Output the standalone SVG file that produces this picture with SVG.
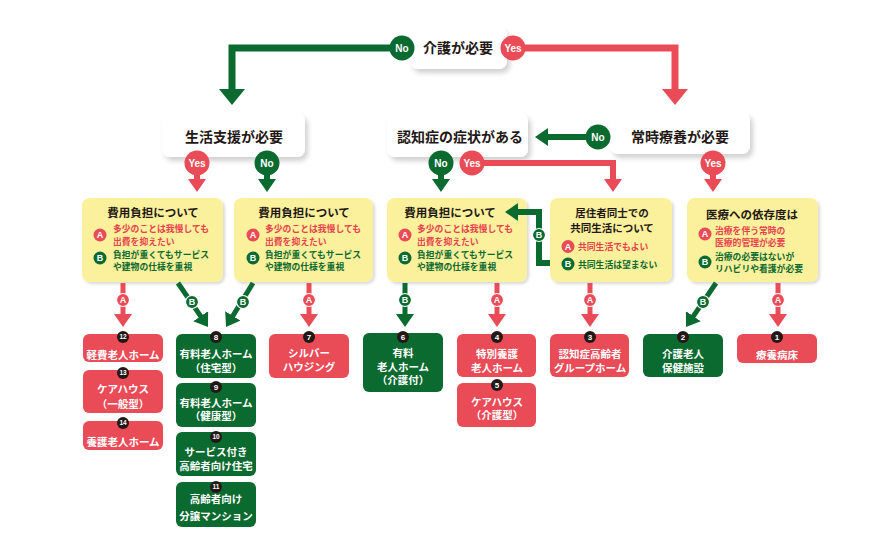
<svg xmlns="http://www.w3.org/2000/svg" width="880" height="550" viewBox="0 0 880 550">
<defs>
<filter id="sh" x="-20%" y="-20%" width="150%" height="160%"><feDropShadow dx="3" dy="4" stdDeviation="2.5" flood-color="#000" flood-opacity="0.18"/></filter>
<filter id="shy" x="-10%" y="-10%" width="130%" height="130%"><feDropShadow dx="2" dy="2" stdDeviation="1.5" flood-color="#000" flood-opacity="0.15"/></filter>
<marker id="agL" viewBox="0 0 16 26" refX="3" refY="13" markerWidth="16" markerHeight="26" markerUnits="userSpaceOnUse" orient="auto"><path d="M0,0 L16,13 L0,26 z" fill="#0b6a30"/></marker>
<marker id="arL" viewBox="0 0 16 26" refX="3" refY="13" markerWidth="16" markerHeight="26" markerUnits="userSpaceOnUse" orient="auto"><path d="M0,0 L16,13 L0,26 z" fill="#e94b57"/></marker>
<marker id="ag" viewBox="0 0 13 18" refX="2" refY="9" markerWidth="13" markerHeight="18" markerUnits="userSpaceOnUse" orient="auto"><path d="M0,0 L13,9 L0,18 z" fill="#0b6a30"/></marker>
<marker id="ar" viewBox="0 0 13 18" refX="2" refY="9" markerWidth="13" markerHeight="18" markerUnits="userSpaceOnUse" orient="auto"><path d="M0,0 L13,9 L0,18 z" fill="#e94b57"/></marker>
</defs>
<style>
text{font-family:"Noto Sans CJK JP","Noto Sans",sans-serif;font-weight:bold}
.q{fill:#fff;filter:url(#sh)}
.qt{font-size:14px;fill:#231815;text-anchor:middle}
.y{fill:#fbf09b;filter:url(#shy)}
.yt{font-size:11.5px;fill:#231815;text-anchor:middle}
.yt2{font-size:10.5px;fill:#231815;text-anchor:middle}
.at{font-size:8.8px;fill:#e8424f}
.bt{font-size:8.8px;fill:#0b6a30}
.ca{fill:#e94b57}
.cb{fill:#0b6a30}
.cl{font-size:9px;fill:#fff;text-anchor:middle;font-family:"Liberation Sans",sans-serif}
.rb{fill:#e94b57}
.gb{fill:#0b6a30}
.bx{font-size:10.5px;fill:#fff;text-anchor:middle}
.nc{fill:#231815}
.nt{font-size:8px;fill:#fff;text-anchor:middle;font-family:"Liberation Sans",sans-serif}
.ns{font-size:6.5px;fill:#fff;text-anchor:middle;font-family:"Liberation Sans",sans-serif}
.lg{fill:none;stroke:#0b6a30}
.lr{fill:none;stroke:#e94b57}
.yn{font-size:10px;fill:#fff;text-anchor:middle;font-family:"Liberation Sans",sans-serif;font-weight:bold}
.lc{stroke:#fff;stroke-width:1.2}
</style>

<g id="q-kaigo"><rect class="q" x="410" y="28" width="97" height="41" rx="8"/><text class="qt" x="458" y="53">介護が必要</text></g>
<g id="q-seikatsu"><rect class="q" x="162" y="113" width="143" height="44" rx="8"/><text class="qt" x="234" y="142">生活支援が必要</text></g>
<g id="q-ninchi"><rect class="q" x="387" y="113" width="141" height="44" rx="8"/><text class="qt" x="460" y="142">認知症の症状がある</text></g>
<g id="q-ryoyo"><rect class="q" x="610" y="112" width="140" height="42" rx="8"/><text class="qt" x="680" y="142">常時療養が必要</text></g>

<g id="y1"><rect class="y" x="82" y="198" width="141" height="84" rx="8"/>
<text class="yt" x="153" y="217">費用負担について</text>
<circle class="ca" cx="100" cy="235" r="6.5"/><text class="cl" x="100" y="238.3">A</text>
<text class="at" x="113" y="232">多少のことは我慢しても</text><text class="at" x="113" y="244.5">出費を抑えたい</text>
<circle class="cb" cx="100" cy="258" r="6.5"/><text class="cl" x="100" y="261.3">B</text>
<text class="bt" x="113" y="257.5">負担が重くてもサービス</text><text class="bt" x="113" y="270">や建物の仕様を重視</text></g>

<g id="y2"><rect class="y" x="234" y="198" width="139" height="84" rx="8"/>
<text class="yt" x="304" y="217">費用負担について</text>
<circle class="ca" cx="253" cy="235" r="6.5"/><text class="cl" x="253" y="238.3">A</text>
<text class="at" x="265" y="232">多少のことは我慢しても</text><text class="at" x="265" y="244.5">出費を抑えたい</text>
<circle class="cb" cx="253" cy="258" r="6.5"/><text class="cl" x="253" y="261.3">B</text>
<text class="bt" x="265" y="257.5">負担が重くてもサービス</text><text class="bt" x="265" y="270">や建物の仕様を重視</text></g>

<g id="y3"><rect class="y" x="387" y="198" width="140" height="84" rx="8"/>
<text class="yt" x="450" y="217">費用負担について</text>
<circle class="ca" cx="405" cy="235" r="6.5"/><text class="cl" x="405" y="238.3">A</text>
<text class="at" x="417" y="232">多少のことは我慢しても</text><text class="at" x="417" y="244.5">出費を抑えたい</text>
<circle class="cb" cx="405" cy="258" r="6.5"/><text class="cl" x="405" y="261.3">B</text>
<text class="bt" x="417" y="257.5">負担が重くてもサービス</text><text class="bt" x="417" y="270">や建物の仕様を重視</text></g>

<g id="y4"><rect class="y" x="550" y="198" width="122" height="84" rx="8"/>
<text class="yt2" x="612" y="216.5">居住者同士での</text><text class="yt2" x="612" y="232">共同生活について</text>
<circle class="ca" cx="568" cy="246.5" r="6.5"/><text class="cl" x="568" y="249.8">A</text>
<text class="at" x="578" y="249.5">共同生活でもよい</text>
<circle class="cb" cx="568" cy="264" r="6.5"/><text class="cl" x="568" y="267.3">B</text>
<text class="bt" x="578" y="267.5">共同生活は望まない</text></g>

<g id="y5"><rect class="y" x="687" y="198" width="131" height="84" rx="8"/>
<text class="yt" x="752" y="219">医療への依存度は</text>
<circle class="ca" cx="705" cy="234" r="6.5"/><text class="cl" x="705" y="237.3">A</text>
<text class="at" x="715" y="233.5">治療を伴う常時の</text><text class="at" x="715" y="246">医療的管理が必要</text>
<circle class="cb" cx="705" cy="262" r="6.5"/><text class="cl" x="705" y="265.3">B</text>
<text class="bt" x="715" y="259.5">治療の必要はないが</text><text class="bt" x="715" y="272">リハビリや看護が必要</text></g>

<g id="f12"><rect class="rb" x="83" y="334" width="80" height="28" rx="6"/><circle class="nc" cx="123" cy="337" r="6"/><text class="ns" x="123" y="339.4">12</text><text class="bx" x="123" y="359">軽費老人ホーム</text></g>
<g id="f13"><rect class="rb" x="83" y="370" width="80" height="43" rx="6"/><circle class="nc" cx="123" cy="373" r="6"/><text class="ns" x="123" y="375.4">13</text><text class="bx" x="123" y="393">ケアハウス</text><text class="bx" x="123" y="408">（一般型）</text></g>
<g id="f14"><rect class="rb" x="83" y="421" width="80" height="29" rx="6"/><circle class="nc" cx="123" cy="423" r="6"/><text class="ns" x="123" y="425.4">14</text><text class="bx" x="123" y="445.5">養護老人ホーム</text></g>
<g id="f8"><rect class="gb" x="176" y="334" width="80" height="44" rx="6"/><circle class="nc" cx="216" cy="337" r="6"/><text class="nt" x="216" y="340">8</text><text class="bx" x="216" y="358">有料老人ホーム</text><text class="bx" x="216" y="371.5">（住宅型）</text></g>
<g id="f9"><rect class="gb" x="176" y="383" width="80" height="44" rx="6"/><circle class="nc" cx="216" cy="387" r="6"/><text class="nt" x="216" y="390">9</text><text class="bx" x="216" y="406.5">有料老人ホーム</text><text class="bx" x="216" y="420">（健康型）</text></g>
<g id="f10"><rect class="gb" x="176" y="432" width="80" height="44" rx="6"/><circle class="nc" cx="216" cy="437" r="6"/><text class="ns" x="216" y="439.4">10</text><text class="bx" x="216" y="455.5">サービス付き</text><text class="bx" x="216" y="470">高齢者向け住宅</text></g>
<g id="f11"><rect class="gb" x="176" y="482" width="80" height="45" rx="6"/><circle class="nc" cx="216" cy="487" r="6"/><text class="ns" x="216" y="489.4">11</text><text class="bx" x="216" y="503">高齢者向け</text><text class="bx" x="216" y="519.5">分譲マンション</text></g>
<g id="f7"><rect class="rb" x="269" y="334" width="80" height="44" rx="6"/><circle class="nc" cx="309" cy="337" r="6"/><text class="nt" x="309" y="340">7</text><text class="bx" x="309" y="357">シルバー</text><text class="bx" x="309" y="371">ハウジング</text></g>
<g id="f6"><rect class="gb" x="363" y="333" width="80" height="59" rx="6"/><circle class="nc" cx="403" cy="337" r="6"/><text class="nt" x="403" y="340">6</text><text class="bx" x="403" y="357">有料</text><text class="bx" x="403" y="370.5">老人ホーム</text><text class="bx" x="403" y="384">（介護付）</text></g>
<g id="f4"><rect class="rb" x="457" y="334" width="79" height="43" rx="6"/><circle class="nc" cx="497" cy="337" r="6"/><text class="nt" x="497" y="340">4</text><text class="bx" x="497" y="358">特別養護</text><text class="bx" x="497" y="371.5">老人ホーム</text></g>
<g id="f5"><rect class="rb" x="457" y="383" width="79" height="44" rx="6"/><circle class="nc" cx="497" cy="385" r="6"/><text class="nt" x="497" y="388">5</text><text class="bx" x="497" y="405.5">ケアハウス</text><text class="bx" x="497" y="419">（介護型）</text></g>
<g id="f3"><rect class="rb" x="550" y="334" width="79" height="43" rx="6"/><circle class="nc" cx="590" cy="337" r="6"/><text class="nt" x="590" y="340">3</text><text class="bx" x="590" y="358">認知症高齢者</text><text class="bx" x="590" y="371.5">グループホーム</text></g>
<g id="f2"><rect class="gb" x="643" y="334" width="80" height="43" rx="6"/><circle class="nc" cx="683" cy="337" r="6"/><text class="nt" x="683" y="340">2</text><text class="bx" x="683" y="358">介護老人</text><text class="bx" x="683" y="371.5">保健施設</text></g>
<g id="f1"><rect class="rb" x="737" y="334" width="80" height="29" rx="6"/><circle class="nc" cx="777" cy="337" r="6"/><text class="nt" x="777" y="340">1</text><text class="bx" x="777" y="359">療養病床</text></g>

<g id="connectors">
<path class="lg" stroke-width="7" d="M402,48 H232 V92" marker-end="url(#agL)"/>
<path class="lr" stroke-width="7" d="M513,48 H675 V92" marker-end="url(#arL)"/>
<path class="lr" stroke-width="6" d="M197,165 V181" marker-end="url(#ar)"/>
<path class="lg" stroke-width="6" d="M267,165 V181" marker-end="url(#ag)"/>
<path class="lg" stroke-width="6" d="M441,165 V181" marker-end="url(#ag)"/>
<path class="lr" stroke-width="6" d="M472,163 H613 V181" marker-end="url(#ar)"/>
<path class="lg" stroke-width="6" d="M598,137 H546" marker-end="url(#ag)"/>
<path class="lr" stroke-width="6" d="M713,165 V181" marker-end="url(#ar)"/>
<path class="lg" stroke-width="6" d="M550,263 H539 V212 H516" marker-end="url(#ag)"/>
<path class="lr" stroke-width="5" d="M123,283 V316" marker-end="url(#ar)"/>
<path class="lg" stroke-width="5" d="M178,283 L201.8,317.9" marker-end="url(#ag)"/>
<path class="lg" stroke-width="5" d="M253,283 L231.8,317.6" marker-end="url(#ag)"/>
<path class="lr" stroke-width="5" d="M309,283 V316" marker-end="url(#ar)"/>
<path class="lg" stroke-width="5" d="M405,283 V316" marker-end="url(#ag)"/>
<path class="lr" stroke-width="5" d="M497,283 V316" marker-end="url(#ar)"/>
<path class="lr" stroke-width="5" d="M590,283 V316" marker-end="url(#ar)"/>
<path class="lg" stroke-width="5" d="M716,283 L692.2,317.9" marker-end="url(#ag)"/>
<path class="lr" stroke-width="5" d="M778,283 V316" marker-end="url(#ar)"/>

<circle class="cb" cx="402" cy="48" r="12.5"/><text class="yn" x="402" y="51.5">No</text>
<circle class="ca" cx="513" cy="48" r="12.5"/><text class="yn" x="513" y="51.5">Yes</text>
<circle class="ca" cx="197" cy="163" r="12.5"/><text class="yn" x="197" y="166.5">Yes</text>
<circle class="cb" cx="267" cy="163" r="12.5"/><text class="yn" x="267" y="166.5">No</text>
<circle class="cb" cx="441" cy="163" r="12.5"/><text class="yn" x="441" y="166.5">No</text>
<circle class="ca" cx="472" cy="163" r="12.5"/><text class="yn" x="472" y="166.5">Yes</text>
<circle class="cb" cx="598" cy="137" r="12.5"/><text class="yn" x="598" y="140.5">No</text>
<circle class="ca" cx="713" cy="163" r="12.5"/><text class="yn" x="713" y="166.5">Yes</text>

<circle class="cb lc" cx="539" cy="235" r="6.5"/><text class="cl" x="539" y="238.3">B</text>
<circle class="ca lc" cx="123" cy="300" r="6.5"/><text class="cl" x="123" y="303.3">A</text>
<circle class="cb lc" cx="192" cy="302" r="6.5"/><text class="cl" x="192" y="305.3">B</text>
<circle class="cb lc" cx="243" cy="302" r="6.5"/><text class="cl" x="243" y="305.3">B</text>
<circle class="ca lc" cx="309" cy="300" r="6.5"/><text class="cl" x="309" y="303.3">A</text>
<circle class="cb lc" cx="405" cy="300" r="6.5"/><text class="cl" x="405" y="303.3">B</text>
<circle class="ca lc" cx="497" cy="300" r="6.5"/><text class="cl" x="497" y="303.3">A</text>
<circle class="ca lc" cx="590" cy="300" r="6.5"/><text class="cl" x="590" y="303.3">A</text>
<circle class="cb lc" cx="703" cy="302" r="6.5"/><text class="cl" x="703" y="305.3">B</text>
<circle class="ca lc" cx="778" cy="300" r="6.5"/><text class="cl" x="778" y="303.3">A</text>
</g>
</svg>
